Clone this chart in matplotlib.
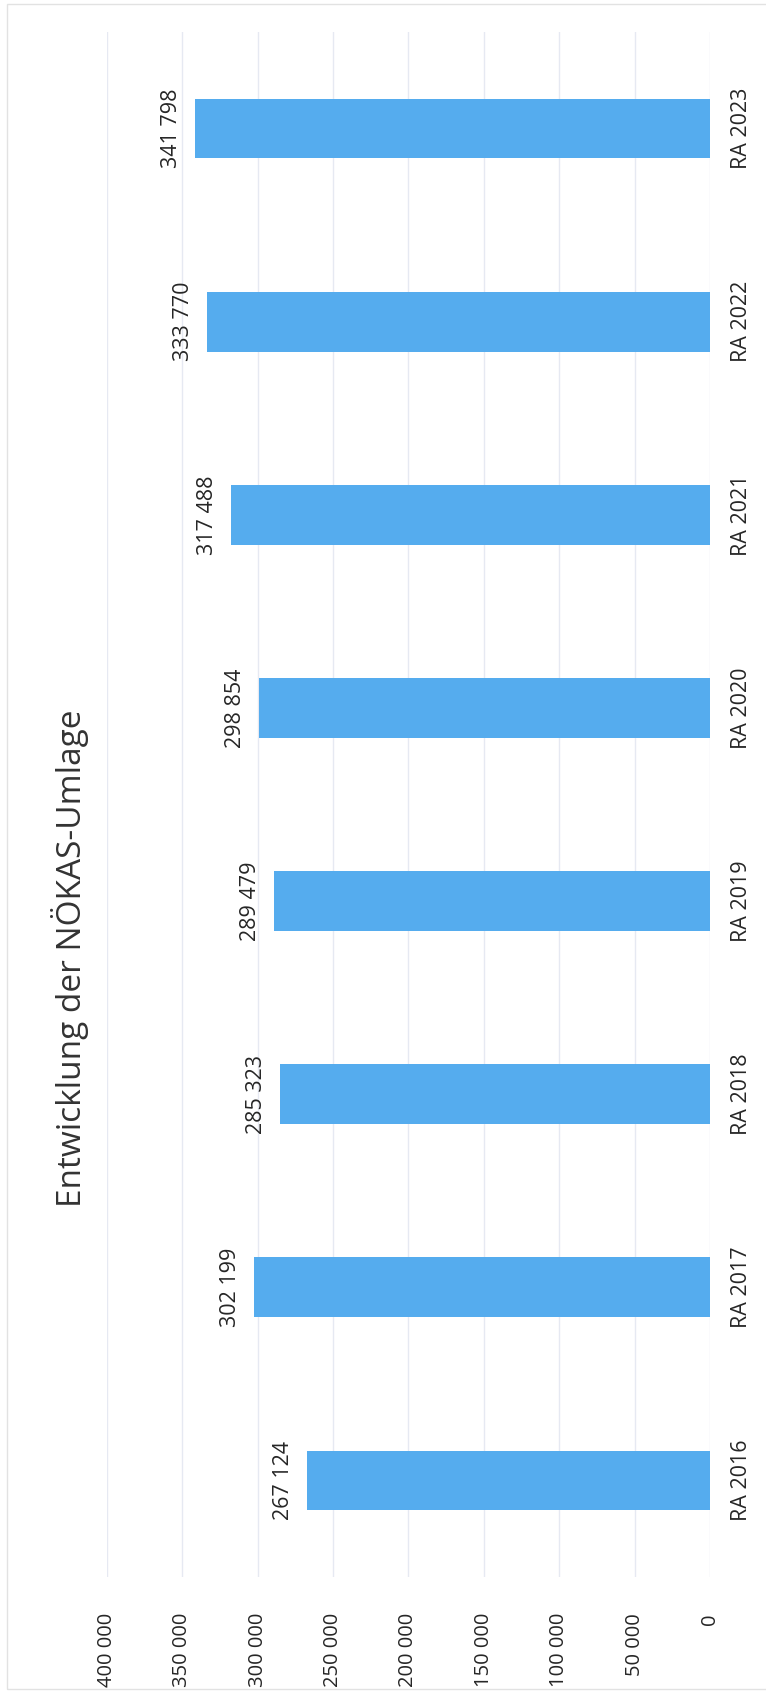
import numpy as np
import matplotlib.pyplot as plt
from matplotlib.patches import Rectangle

## 데이터 ##
categories = ["RA 2016", "RA 2017", "RA 2018", "RA 2019", "RA 2020", "RA 2021", "RA 2022", "RA 2023"]
values = [267124, 302199, 285323, 289479, 298854, 317488, 333770, 341798]
ticks = [0, 50000, 100000, 150000, 200000, 250000, 300000, 350000, 400000]
title = "Entwicklung der NÖKAS-Umlage"

def fmt(v):
    return f"{v:,}".replace(",", " ")

plt.rcParams['font.family'] = ['Open Sans', 'DejaVu Sans']
W, H = 766, 1692
fig = plt.figure(figsize=(W / 100, H / 100), dpi=100)

# chart area border (scan look)
fig.patches.append(Rectangle((7 / W, 3 / H), 1.0, 1 - 7 / H, transform=fig.transFigure,
                             fill=False, edgecolor='#e2e2e2', linewidth=1.0))

# plot area, rotated layout: values run to the left, categories bottom->top
ax = fig.add_axes([107 / W, 1 - 1577 / H, (710 - 107) / W, (1577 - 32) / H])
y = np.arange(len(categories))
ax.barh(y, values, height=0.31, color='#55acee', zorder=3)

ax.set_xlim(400000, 0)
ax.set_ylim(-0.5, len(categories) - 0.5)
ax.set_xticks(ticks)
ax.set_xticklabels([fmt(t) for t in ticks])
ax.grid(axis='x', color='#e6e9f2', linewidth=1.0, zorder=0)
for s in ax.spines.values():
    s.set_visible(False)

ax.tick_params(axis='x', length=0, pad=26, labelsize=14.5, labelcolor='#262626', labelrotation=90)
ax.yaxis.tick_right()
ax.set_yticks(y)
ax.set_yticklabels(categories)
ax.tick_params(axis='y', length=0, pad=15, labelsize=15.5, labelcolor='#262626')
for lab in ax.get_yticklabels():
    lab.set_rotation(90)
    lab.set_va('center')
    lab.set_ha('left')

# value labels
for i, v in enumerate(values):
    ax.annotate(fmt(v), (v, i), xytext=(-13, 0), textcoords='offset pixels',
                rotation=90, ha='right', va='center', fontsize=15.5, color='#262626')

# title (left side, rotated)
fig.text(70 / W, 1 - 958 / H, title, rotation=90, ha='center', va='center',
         fontsize=24, color='#333333')

plt.savefig("out.png", dpi=100)
